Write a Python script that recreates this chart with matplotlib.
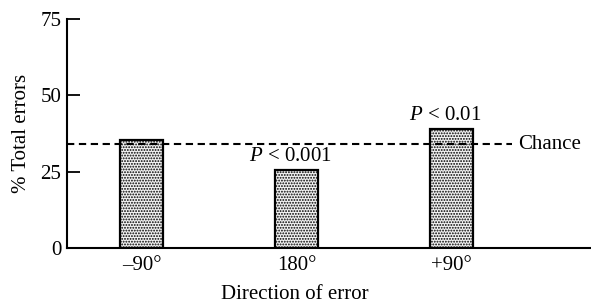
import matplotlib
matplotlib.use('Agg')
import matplotlib.pyplot as plt

# data
directions = ['\u201390\u00b0', '180\u00b0', '+90\u00b0']
pct_errors = [35.3, 25.5, 39.0]
p_labels = ['', r'$P$ < 0.001', r'$P$ < 0.01']
chance = 34.0
yticks = [0, 25, 50, 75]

plt.rcParams['font.family'] = ['Liberation Serif', 'DejaVu Serif']
plt.rcParams['mathtext.fontset'] = 'custom'
plt.rcParams['mathtext.it'] = 'Liberation Serif:italic'
plt.rcParams['mathtext.rm'] = 'Liberation Serif'
plt.rcParams['hatch.linewidth'] = 0.9
plt.rcParams['hatch.color'] = '#6a6a6a'

fs = 15
fig = plt.figure(figsize=(5.91, 3.05), dpi=100)
ax = fig.add_axes([0.1134, 0.187, 0.8866, 0.751])

x = list(range(len(directions)))
ax.bar(x, pct_errors, width=0.28, facecolor='#f2f2f2', edgecolor='black',
       linewidth=1.6, hatch='......', zorder=2)

ax.plot([-0.48, 2.39], [chance, chance], ls=(0, (3.5, 2.2)), color='black',
        lw=1.5, zorder=3)
ax.text(2.43, chance, 'Chance', va='center', ha='left', fontsize=fs)

for xi, v, lab in zip(x, pct_errors, p_labels):
    if lab:
        ax.text(xi - 0.04, v + 1.2, lab, ha='center', va='bottom', fontsize=fs)

ax.set_xlim(-0.48, 2.9)
ax.set_ylim(0, 75)
ax.set_yticks(yticks)
ax.set_xticks(x)
ax.set_xticklabels(directions)
ax.tick_params(axis='y', direction='in', length=9, width=1.3, labelsize=fs, pad=4)
ax.tick_params(axis='x', length=0, labelsize=fs, pad=6)
for s in ['top', 'right']:
    ax.spines[s].set_visible(False)
ax.spines['left'].set_linewidth(1.5)
ax.spines['bottom'].set_linewidth(1.5)

ax.set_ylabel('% Total errors', fontsize=fs, labelpad=7)
ax.set_xlabel('Direction of error', fontsize=fs, labelpad=5)
# the x label sits under the middle bar, not the middle of the axis
ax.xaxis.set_label_coords(0.435, -0.16)

fig.savefig('out.png', dpi=100)
